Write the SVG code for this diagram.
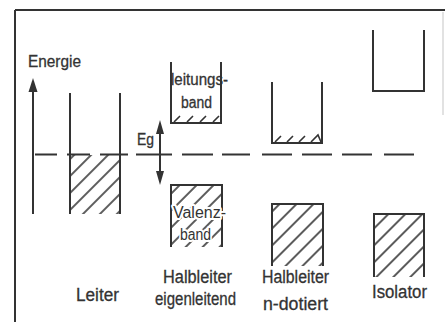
<svg xmlns="http://www.w3.org/2000/svg" width="445" height="322" viewBox="0 0 445 322">
<style>
.ln{stroke:#333;stroke-width:2;fill:none;stroke-linecap:butt}
.tk{stroke:#333;stroke-width:1.6;fill:none}
.t{font-family:"Liberation Sans",Arial,sans-serif;fill:#333;font-size:16px;stroke:#333;stroke-width:0.3px}
.b{font-size:18px}
.halo{paint-order:stroke;stroke:#fff;stroke-width:4px;stroke-linejoin:round}
.hf{fill:url(#hatch);stroke:none}
.ah{fill:#333;stroke:none}
</style>
<defs>
<pattern id="hatch" patternUnits="userSpaceOnUse" width="12" height="12" patternTransform="rotate(45)">
<line x1="6" y1="-1" x2="6" y2="13" stroke="#333" stroke-width="1.6"/>
</pattern>
</defs>
<rect width="445" height="322" fill="#fff"/>
<g id="frame">
<path class="ln" d="M15,10 H445 M15,10 V322"/>
<path d="M443,12 V115" stroke="#d8d8d8" stroke-width="1.5"/>
</g>
<g id="energie-axis">
<path class="ln" d="M33,90 V214"/>
<path class="ah" d="M33,78 L28.5,92 H37.5 Z"/>
<text class="t" x="28" y="67" textLength="53" lengthAdjust="spacingAndGlyphs">Energie</text>
</g>
<g id="leiter">
<rect class="hf" x="70" y="155" width="50" height="59"/>
<path class="ln" d="M70,93 V214 M120,93 V214"/>
<text class="t b" x="76" y="301" textLength="43" lengthAdjust="spacingAndGlyphs">Leiter</text>
</g>
<g id="halbleiter-eigenleitend">
<path class="ln" d="M171,62 V123 H221 V62"/>
<path class="tk" d="M174,122 L180,116 M187,122 L193,116 M200,122 L206,116 M213,122 L219,116"/>
<text class="t" x="171" y="85" textLength="57" lengthAdjust="spacingAndGlyphs">leitungs-</text>
<text class="t" x="181" y="108" textLength="31" lengthAdjust="spacingAndGlyphs">band</text>
<rect class="hf" x="171" y="185" width="51" height="62"/>
<path class="ln" d="M171,247 V185 H222 V247"/>
<text class="t halo" x="173" y="218" textLength="53" lengthAdjust="spacingAndGlyphs">Valenz-</text>
<text class="t halo" x="180" y="240" textLength="31" lengthAdjust="spacingAndGlyphs">band</text>
<text class="t b" x="163" y="283" textLength="69" lengthAdjust="spacingAndGlyphs">Halbleiter</text>
<text class="t b" x="155" y="305" textLength="81" lengthAdjust="spacingAndGlyphs">eigenleitend</text>
</g>
<g id="halbleiter-n-dotiert">
<path class="ln" d="M272,82 V143 H322 V82"/>
<path class="tk" d="M275,142 L281,136 M287,142 L293,136 M299,142 L305,136 M311,142 L318,135 L321,142"/>
<rect class="hf" x="272" y="204" width="51" height="62"/>
<path class="ln" d="M272,266 V204 H323 V266"/>
<text class="t b" x="262" y="283" textLength="67" lengthAdjust="spacingAndGlyphs">Halbleiter</text>
<text class="t b" x="263" y="310" textLength="65" lengthAdjust="spacingAndGlyphs">n-dotiert</text>
</g>
<g id="isolator">
<path class="ln" d="M373,30 V91 H424 V30"/>
<rect class="hf" x="374" y="214" width="50" height="63"/>
<path class="ln" d="M374,277 V214 H424 V277"/>
<text class="t b" x="372" y="298" textLength="55" lengthAdjust="spacingAndGlyphs">Isolator</text>
</g>
<g id="connectors">
<path class="ln" d="M35,154.5 H57 M67,154.5 H90 M100,154.5 H128 M136,154.5 H172 M182,154.5 H213 M222,154.5 H250 M262,154.5 H292 M302,154.5 H332 M342,154.5 H372 M384,154.5 H414"/>
<path class="ln" d="M160,132 V173"/>
<path class="ah" d="M160,120 L156,134 H164 Z M160,185 L156,171 H164 Z"/>
<text class="t" x="137" y="145" textLength="17" lengthAdjust="spacingAndGlyphs">Eg</text>
</g>
</svg>
